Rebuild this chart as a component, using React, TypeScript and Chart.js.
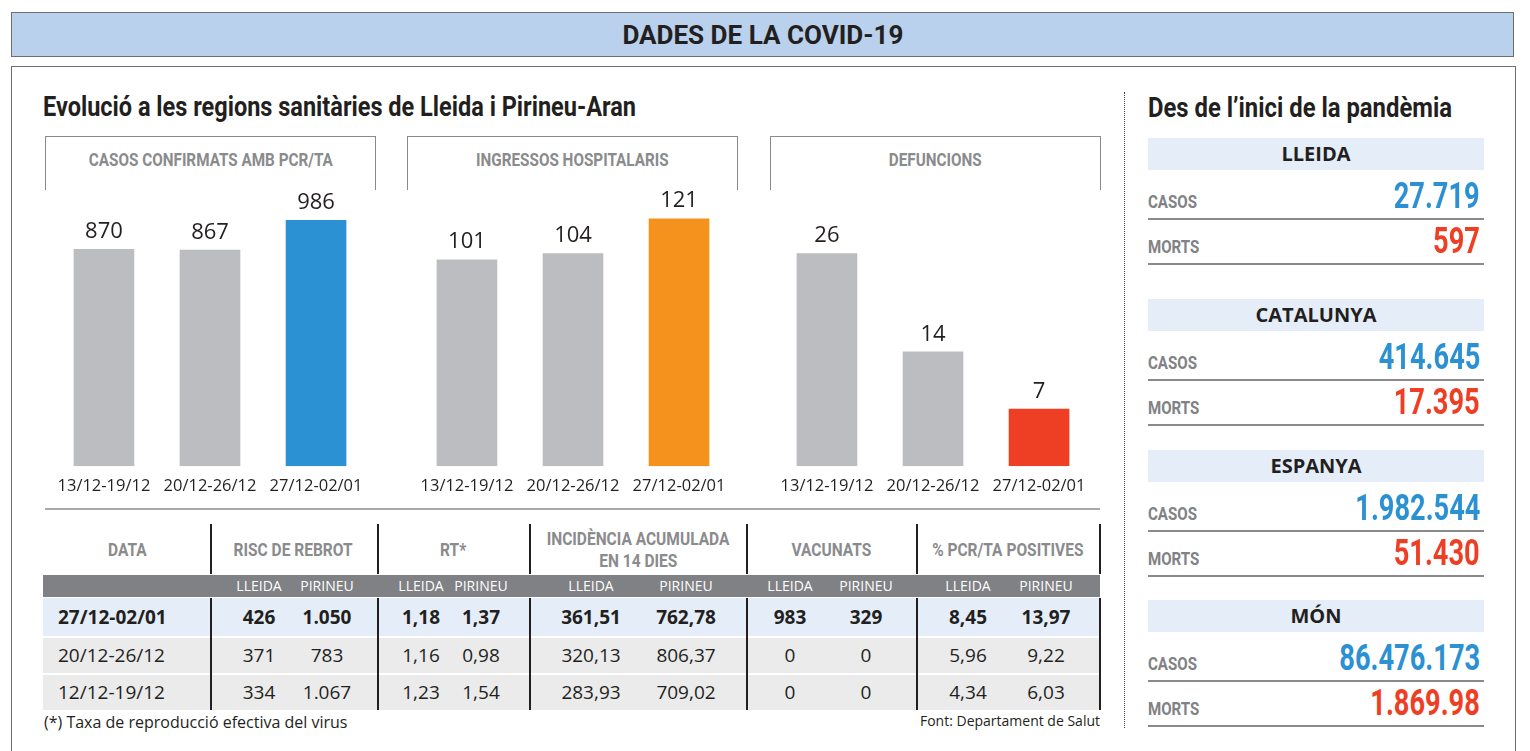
import React, { useEffect, useRef } from "react";
import { Chart, registerables } from "chart.js";

Chart.register(...registerables);

// ---------- DATA ----------
const periods = ["13/12-19/12", "20/12-26/12", "27/12-02/01"];
const casosConfirmats = [870, 867, 986];
const ingressosHospitalaris = [101, 104, 121];
const defuncions = [26, 14, 7];
const chartTitles = ["CASOS CONFIRMATS AMB PCR/TA", "INGRESSOS HOSPITALARIS", "DEFUNCIONS"];
const chartAxisMax = [1066, 130, 32.5];

const tableHeaders = ["DATA", "RISC DE REBROT", "RT*", "INCIDÈNCIA ACUMULADA|EN 14 DIES", "VACUNATS", "% PCR/TA POSITIVES"];
const subHeaders = ["LLEIDA", "PIRINEU"];
const tableDates = ["27/12-02/01", "20/12-26/12", "12/12-19/12"];
const riscLleida = ["426", "371", "334"];
const riscPirineu = ["1.050", "783", "1.067"];
const rtLleida = ["1,18", "1,16", "1,23"];
const rtPirineu = ["1,37", "0,98", "1,54"];
const iaLleida = ["361,51", "320,13", "283,93"];
const iaPirineu = ["762,78", "806,37", "709,02"];
const vacLleida = ["983", "0", "0"];
const vacPirineu = ["329", "0", "0"];
const pcrLleida = ["8,45", "5,96", "4,34"];
const pcrPirineu = ["13,97", "9,22", "6,03"];

const regions = ["LLEIDA", "CATALUNYA", "ESPANYA", "MÓN"];
const casosTotals = ["27.719", "414.645", "1.982.544", "86.476.173"];
const mortsTotals = ["597", "17.395", "51.430", "1.869.98"];

// ---------- STYLE ----------
const CF = "Roboto, 'Open Sans', sans-serif";
const REG = "'Open Sans','Noto Sans',sans-serif";
const DARK = "#231f20";
const GRAYTXT = "#8a8b8d";
const BARGRAY = "#bcbdc0";
const BLUE = "#2b91d3";
const ORANGE = "#f5921e";
const RED = "#ee3e23";

let mctx: CanvasRenderingContext2D | null = null;
function tw(text: string, size: number) {
  if (!mctx) mctx = document.createElement("canvas").getContext("2d");
  mctx!.font = `700 ${size}px ${CF}`;
  return mctx!.measureText(text).width;
}

const abs = (s: React.CSSProperties): React.CSSProperties => ({ position: "absolute", ...s });

function Cond({ text, x, cy, size, scale, align = "left", color = DARK }: {
  text: string; x: number; cy: number; size: number; scale: number; align?: "left" | "center" | "right"; color?: string;
}) {
  const L = Math.round(size * 1.3);
  const W = 1200;
  const left = align === "left" ? x : align === "right" ? x - W : x - W / 2;
  const origin = align === "left" ? "left center" : align === "right" ? "right center" : "center center";
  return (
    <div
      style={abs({
        left, top: cy - L / 2, width: W, height: L, lineHeight: L + "px", textAlign: align,
        fontFamily: CF, fontWeight: 700, fontSize: size, color, whiteSpace: "nowrap",
      })}
    >
      <span style={{ display: "inline-block", transform: `scaleX(${scale})`, transformOrigin: origin }}>{text}</span>
    </div>
  );
}

const valueLabels = {
  id: "valueLabels",
  afterDatasetsDraw(chart: any) {
    const ctx = chart.ctx;
    const meta = chart.getDatasetMeta(0);
    ctx.save();
    ctx.font = `22px ${REG}`;
    ctx.fillStyle = DARK;
    ctx.textAlign = "center";
    ctx.textBaseline = "alphabetic";
    meta.data.forEach((el: any, i: number) => {
      ctx.fillText(String(chart.data.datasets[0].data[i]), el.x, el.y - 11);
    });
    ctx.restore();
  },
};

function BarChart({ left, values, highlight, yMax }: { left: number; values: number[]; highlight: string; yMax: number }) {
  const ref = useRef<HTMLCanvasElement>(null);
  useEffect(() => {
    const chart = new Chart(ref.current as HTMLCanvasElement, {
      type: "bar",
      data: {
        labels: periods,
        datasets: [
          {
            data: values,
            backgroundColor: values.map((_, i) => (i === values.length - 1 ? highlight : BARGRAY)),
            barPercentage: 0.572,
            categoryPercentage: 1,
          },
        ],
      },
      options: {
        animation: false,
        responsive: false,
        maintainAspectRatio: false,
        events: [],
        layout: { padding: { top: 20, bottom: 4, left: 0, right: 0 } },
        plugins: { legend: { display: false }, tooltip: { enabled: false } },
        scales: {
          x: {
            grid: { display: false, drawTicks: false },
            border: { display: false },
            ticks: { color: DARK, font: { family: REG, size: 16.5 }, padding: 10, maxRotation: 0, autoSkip: false },
          },
          y: { display: false, min: 0, max: yMax },
        },
      },
      plugins: [valueLabels],
    } as any);
    return () => chart.destroy();
  }, []);
  return (
    <canvas
      ref={ref}
      width={324}
      height={330}
      style={{ position: "absolute", left, top: 180, width: 324, height: 330 }}
    />
  );
}

export default function App() {
  const boxLefts = [45, 407, 770];
  const chartLefts = [47.5, 410.5, 770.5];
  const chartData = [casosConfirmats, ingressosHospitalaris, defuncions];
  const highlights = [BLUE, ORANGE, RED];

  const vlines = [210, 377, 529, 746, 916, 1099];
  const headerCenters = [127, 293, 453, 638, 831, 1008];
  const subCenters = [259, 327, 421, 481, 591, 686, 790, 866, 968, 1046];
  const rowTops = [598, 638, 675];
  const rowHeights = [38, 35, 35];
  const rowBg = ["#e5eef8", "#ebebec", "#ebebec"];
  const valueCols = [riscLleida, riscPirineu, rtLleida, rtPirineu, iaLleida, iaPirineu, vacLleida, vacPirineu, pcrLleida, pcrPirineu];
  const sectionTops = [138, 299, 450, 600];

  const headScale = 281 / tw("DADES DE LA COVID-19", 25);
  const leftTitle = "Evolució a les regions sanitàries de Lleida i Pirineu-Aran";
  const rightTitle = "Des de l’inici de la pandèmia";
  const leftTitleScale = 593 / tw(leftTitle, 28);
  const rightTitleScale = 304 / tw(rightTitle, 28);
  const chartHdrScale = 244 / tw(chartTitles[0], 17.5);
  const tableHdrScale = 119 / tw("RISC DE REBROT", 18);
  const labelScale = 49 / tw("CASOS", 18.5);
  const valueScale = 86 / tw("27.719", 36);

  return (
    <div style={{ position: "absolute", left: 0, top: 0, width: 1530, height: 751, overflow: "hidden", background: "#fff", fontFamily: REG, color: DARK }}>
      {/* header bar */}
      <div style={abs({ left: 11, top: 12, width: 1503, height: 45, boxSizing: "border-box", background: "#b9d1ec", border: "1.5px solid #6d6e70" })} />
      <Cond text="DADES DE LA COVID-19" x={763} cy={35} size={25} scale={headScale} align="center" />

      {/* main box */}
      <div style={abs({ left: 11, top: 66, width: 1505, height: 720, boxSizing: "border-box", border: "1.5px solid #6d6e70" })} />

      {/* left title */}
      <Cond text={leftTitle} x={43} cy={107} size={28} scale={leftTitleScale} />

      {/* chart header boxes */}
      {boxLefts.map((l, i) => (
        <React.Fragment key={i}>
          <div
            style={abs({
              left: l, top: 136, width: 331, height: 54, boxSizing: "border-box",
              borderTop: "1.5px solid #8a8a8a", borderLeft: "1.5px solid #8a8a8a", borderRight: "1.5px solid #8a8a8a",
            })}
          />
          <Cond text={chartTitles[i]} x={l + 165.5} cy={160} size={17.5} scale={chartHdrScale} align="center" color={GRAYTXT} />
        </React.Fragment>
      ))}

      {chartLefts.map((l, i) => (
        <BarChart key={i} left={l} values={chartData[i]} highlight={highlights[i]} yMax={chartAxisMax[i]} />
      ))}

      {/* line under charts */}
      <div style={abs({ left: 45, top: 508, width: 1055, height: 2, background: "#a7a9ac" })} />

      {/* table header */}
      {vlines.map((x, i) => (
        <div key={"hv" + i} style={abs({ left: x, top: 524, width: 1.5, height: 50, background: DARK })} />
      ))}
      {tableHeaders.map((h, i) => {
        const lines = h.split("|");
        return lines.map((ln, j) => (
          <Cond
            key={"th" + i + "-" + j}
            text={ln}
            x={headerCenters[i]}
            cy={lines.length > 1 ? 538 + j * 22 : 549}
            size={18}
            scale={tableHdrScale}
            align="center"
            color={GRAYTXT}
          />
        ));
      })}
      <div style={abs({ left: 43, top: 575, width: 1057, height: 22, background: "#808184" })} />
      {subCenters.map((c, i) => (
        <div key={"sh" + i} style={abs({ left: c - 40, width: 80, top: 575, textAlign: "center", fontSize: 14, lineHeight: "22px", color: "#fff" })}>
          {subHeaders[i % 2]}
        </div>
      ))}
      {rowTops.map((t, r) => (
        <div key={"row" + r} style={abs({ left: 43, top: t, width: 1057, height: rowHeights[r], background: rowBg[r] })} />
      ))}
      {vlines.map((x, i) => (
        <div key={"dv" + i} style={abs({ left: x, top: 598, width: 1.5, height: 112, background: DARK })} />
      ))}
      {rowTops.map((t, r) => (
        <React.Fragment key={"rt" + r}>
          <div style={abs({ left: 58, top: t, height: rowHeights[r], lineHeight: rowHeights[r] + "px", fontSize: 19, fontWeight: r === 0 ? 700 : 400, whiteSpace: "nowrap" })}>
            {tableDates[r]}
          </div>
          {valueCols.map((col, k) => (
            <div
              key={k}
              style={abs({
                left: subCenters[k] - 45, width: 90, top: t, height: rowHeights[r], lineHeight: rowHeights[r] + "px",
                textAlign: "center", fontSize: 19, fontWeight: r === 0 ? 700 : 400, whiteSpace: "nowrap",
              })}
            >
              {col[r]}
            </div>
          ))}
        </React.Fragment>
      ))}
      <div style={abs({ left: 44, top: 710, fontSize: 16, lineHeight: "24px", whiteSpace: "nowrap" })}>(*) Taxa de reproducció efectiva del virus</div>
      <div style={abs({ left: 800, width: 300, top: 710, textAlign: "right", fontSize: 14, lineHeight: "22px", whiteSpace: "nowrap" })}>Font: Departament de Salut</div>

      {/* separator */}
      <div style={abs({ left: 1124, top: 92, width: 0, height: 636, borderLeft: "1.5px dotted #444" })} />

      {/* right panel */}
      <Cond text={rightTitle} x={1148} cy={108} size={28} scale={rightTitleScale} />
      {sectionTops.map((t, i) => (
        <React.Fragment key={"sec" + i}>
          <div
            style={abs({
              left: 1148, top: t, width: 336, height: 32, background: "#e5eef8", textAlign: "center",
              fontWeight: 700, fontSize: 20, lineHeight: "32px", color: DARK,
            })}
          >
            {regions[i]}
          </div>
          <Cond text="CASOS" x={1148} cy={t + 64} size={18.5} scale={labelScale} color="#808285" />
          <Cond text={casosTotals[i]} x={1480} cy={t + 58} size={36} scale={valueScale} align="right" color={BLUE} />
          <div style={abs({ left: 1148, top: t + 80, width: 336, height: 2, background: "#8a8a8a" })} />
          <Cond text="MORTS" x={1148} cy={t + 109} size={18.5} scale={labelScale} color="#808285" />
          <Cond text={mortsTotals[i]} x={1480} cy={t + 103} size={36} scale={valueScale} align="right" color={RED} />
          <div style={abs({ left: 1148, top: t + 125, width: 336, height: 2, background: "#8a8a8a" })} />
        </React.Fragment>
      ))}
    </div>
  );
}
